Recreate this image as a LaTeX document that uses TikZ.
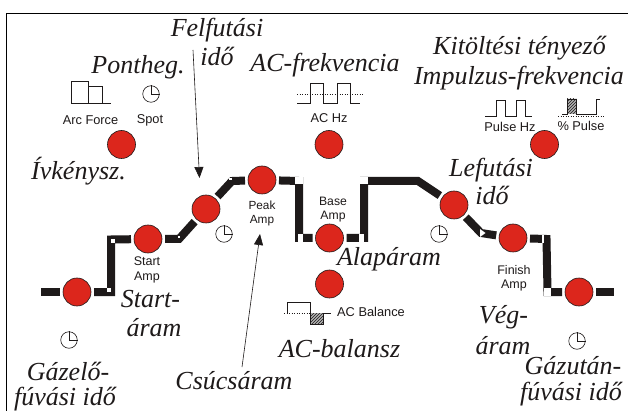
\documentclass[tikz,border=0pt]{standalone}
\usepackage{fontspec}
\setmainfont{Liberation Serif}
\setsansfont{Liberation Sans}
\usetikzlibrary{patterns,arrows.meta}
\definecolor{knobred}{RGB}{220,38,28}
\definecolor{ink}{RGB}{30,26,26}
\tikzset{
  knob/.style={circle,fill=knobred,draw=ink,line width=0.6pt,minimum size=28pt,inner sep=0pt,outer sep=3pt},
  bar/.style={draw=ink,line width=8pt,line join=miter,line cap=butt},
  mark square/.style={fill=white,draw=none,minimum width=#1,minimum height=8pt,inner sep=0pt},
  mark small/.style={fill=white,draw=none,minimum size=#1,inner sep=0pt},
  captxt/.style={font=\itshape\fontsize{26}{26}\selectfont,text=ink,inner sep=0pt,anchor=center},
  lab/.style={font=\sffamily\fontsize{12.8}{14}\selectfont,text=ink,inner sep=0pt,align=center,anchor=center},
  clockface/.style={circle,draw=ink,line width=0.6pt,minimum size=16.5pt,inner sep=0pt},
  thin icon/.style={draw=ink,line width=0.6pt},
  dotted icon/.style={draw=ink,line width=0.5pt,dotted},
  hatchfill/.style={pattern=north east lines,pattern color=ink},
  pointer/.style={draw=ink,line width=0.6pt,-{Triangle[length=11pt,width=9pt]}},
}
\newcommand{\clockat}[2]{%
  \node[clockface] (#2) at (#1) {};
  \draw[thin icon] (#2.north) -- (#2.center) -- (#2.east);
}
\begin{document}
\begin{tikzpicture}[x=1pt,y=-1pt]
\useasboundingbox (0,0) rectangle (628,411);
\fill[white] (0,0) rectangle (628,411);
% frame
\draw[black,line width=1pt] (6.5,411) -- (6.5,13.5) -- (628,13.5);

% knobs
\node[knob] (arc) at (121.5,144.5) {};
\node[knob] (ach) at (329,144.5) {};
\node[knob] (pul) at (544.5,144.5) {};
\node[knob] (pre) at (77,292) {};
\node[knob] (sta) at (148,239) {};
\node[knob] (ris) at (206,209) {};
\node[knob] (pea) at (262,180) {};
\node[knob] (bas) at (329.5,238) {};
\node[knob] (bal) at (329.5,284) {};
\node[knob] (fal) at (454,205) {};
\node[knob] (fin) at (513,238) {};
\node[knob] (pos) at (579,292) {};

% free ends and bends
\coordinate (in) at (41,292);
\coordinate (out) at (614,292);
\coordinate (a1) at (111,292);
\coordinate (a2) at (111,239.5);
\coordinate (b1) at (179,239);
\coordinate (b2) at (232,181);
\coordinate (c1) at (299,181);
\coordinate (c2) at (299,238);
\coordinate (d1) at (364,238);
\coordinate (d2) at (364,181);
\coordinate (d3) at (418,181);
\coordinate (e1) at (481,233);
\coordinate (f1) at (546.5,239);
\coordinate (f2) at (547.5,292);

\draw[bar] (in) -- (pre);
\draw[bar] (pre) -- (a1) -- (a2) -- (sta);
\draw[bar] (sta) -- (b1) -- (ris);
\draw[bar] (ris) -- (b2) -- (pea);
\draw[bar] (pea) -- (c1) -- (c2) -- (bas);
\draw[bar] (bas) -- (d1) -- (d2) -- (d3) -- (fal);
\draw[bar] (fal) -- (e1) -- (fin);
\draw[bar] (fin) -- (f1) -- (f2) -- (pos);
\draw[bar] (pos) -- (out);

% white marks at the bends
\node[mark small=4pt] at (109,290) {};
\node[mark small=4pt] at (113,241) {};
\node[mark small=2.5pt] at (179,237) {};
\node[mark small=2.5pt] at (230.5,179) {};
\node[mark small=7.5pt] at (299,180.5) {};
\node[mark square=5pt] at (300.5,238) {};
\node[mark small=7.5pt] at (364,180.5) {};
\node[mark square=5pt] at (361.5,238) {};
\fill[white] (480,229) -- (485.5,233) -- (480,237) -- cycle;
\node[mark square=2.5pt] at (543,239) {};
\node[mark square=7pt] at (547.5,292) {};

% clocks
\clockat{151,94}{ck1}
\clockat{224,234}{ck2}
\clockat{69,340}{ck3}
\clockat{439,234}{ck4}
\clockat{577,341}{ck5}

% arc force icon
\draw[thin icon] (71,103) -- (111,103);
\draw[thin icon] (71,103) -- (71,81.5) -- (88,81.5) -- (88,103);
\draw[thin icon] (88,86) -- (102,86) -- (102,103);
% AC Hz icon
\draw[dotted icon] (297,94) -- (363,94);
\draw[thin icon] (297,103) -- (310,103) -- (310,83) -- (323,83) -- (323,103) -- (337,103) -- (337,83) -- (350,83) -- (350,103) -- (360,103);
% Pulse Hz icon
\draw[thin icon] (485,116) -- (496,116) -- (496,100) -- (505,100) -- (505,116) -- (516,116) -- (516,100) -- (525,100) -- (525,116) -- (532,116);
% % Pulse icon
\draw[dotted icon] (558,116.5) -- (605,116.5);
\fill[gray!60] (567,99) rectangle (576,114);
\fill[hatchfill] (567,99) rectangle (576,114);
\draw[thin icon] (562,114) -- (567,114) -- (567,99) -- (576,99) -- (576,114) -- (596,114) -- (596,99) -- (600,99);
% AC balance icon
\draw[dotted icon] (284,313) -- (314,313);
\fill[gray!60] (310,313) rectangle (323,324);
\fill[hatchfill] (310,313) rectangle (323,324);
\draw[thin icon] (287,313) -- (287,302) -- (310,302) -- (310,324) -- (323,324) -- (323,313) -- (331,313);

% arrows
\coordinate (p1) at (193,50);
\coordinate (p2) at (199.5,178);
\coordinate (q1) at (242,367);
\coordinate (q2) at (260,234);
\draw[pointer] (p1) -- (p2);
\draw[pointer] (q1) -- (q2);

% small labels
\node[lab] (l1) at (90.5,120) {Arc Force};
\node[lab] (l2) at (150,120) {Spot};
\node[lab] (l3) at (329,118) {AC Hz};
\node[lab] (l4) at (510,127) {Pulse Hz};
\node[lab] (l5) at (581,126) {\% Pulse};
\node[lab,font=\sffamily\fontsize{11.8}{14}\selectfont] (l6) at (262,213.5) {Peak\\Amp};
\node[lab,font=\sffamily\fontsize{12.2}{14}\selectfont] (l7) at (333,210) {Base\\Amp};
\node[lab,font=\sffamily\fontsize{12.5}{15}\selectfont] (l8) at (147,270) {Start\\Amp};
\node[lab,font=\sffamily\fontsize{12.5}{14}\selectfont] (l9) at (514,278.5) {Finish\\Amp};
\node[lab] (l10) at (371,312) {AC Balance};

% captions
\node[captxt] (t1) at (217,30) {Felfutási};
\node[captxt] (t2) at (217,56) {idő};
\node[captxt] (t3) at (138,67) {Pontheg.};
\node[captxt] (t4) at (325,65.5) {AC-frekvencia};
\node[captxt] (t5) at (519.5,48.5) {Kitöltési tényező};
\node[captxt] (t6) at (519,78) {Impulzus-frekvencia};
\node[captxt] (t7) at (78.5,171) {Ívkénysz.};
\node[captxt] (t8) at (491,170) {Lefutási};
\node[captxt] (t9) at (492,195) {idő};
\node[captxt] (t10) at (150.5,299.5) {Start-};
\node[captxt] (t11) at (154,328) {áram};
\node[captxt] (t12) at (68,371) {Gázelő-};
\node[captxt] (t13) at (65,399) {fúvási idő};
\node[captxt] (t14) at (234,381) {Csúcsáram};
\node[captxt] (t15) at (339.5,349) {AC-balansz};
\node[captxt] (t16) at (389,259) {Alapáram};
\node[captxt] (t17) at (503.5,317) {Vég-};
\node[captxt] (t18) at (503,346) {áram};
\node[captxt] (t19) at (573,366) {Gázután-};
\node[captxt] (t20) at (571,394) {fúvási idő};
\end{tikzpicture}
\end{document}
